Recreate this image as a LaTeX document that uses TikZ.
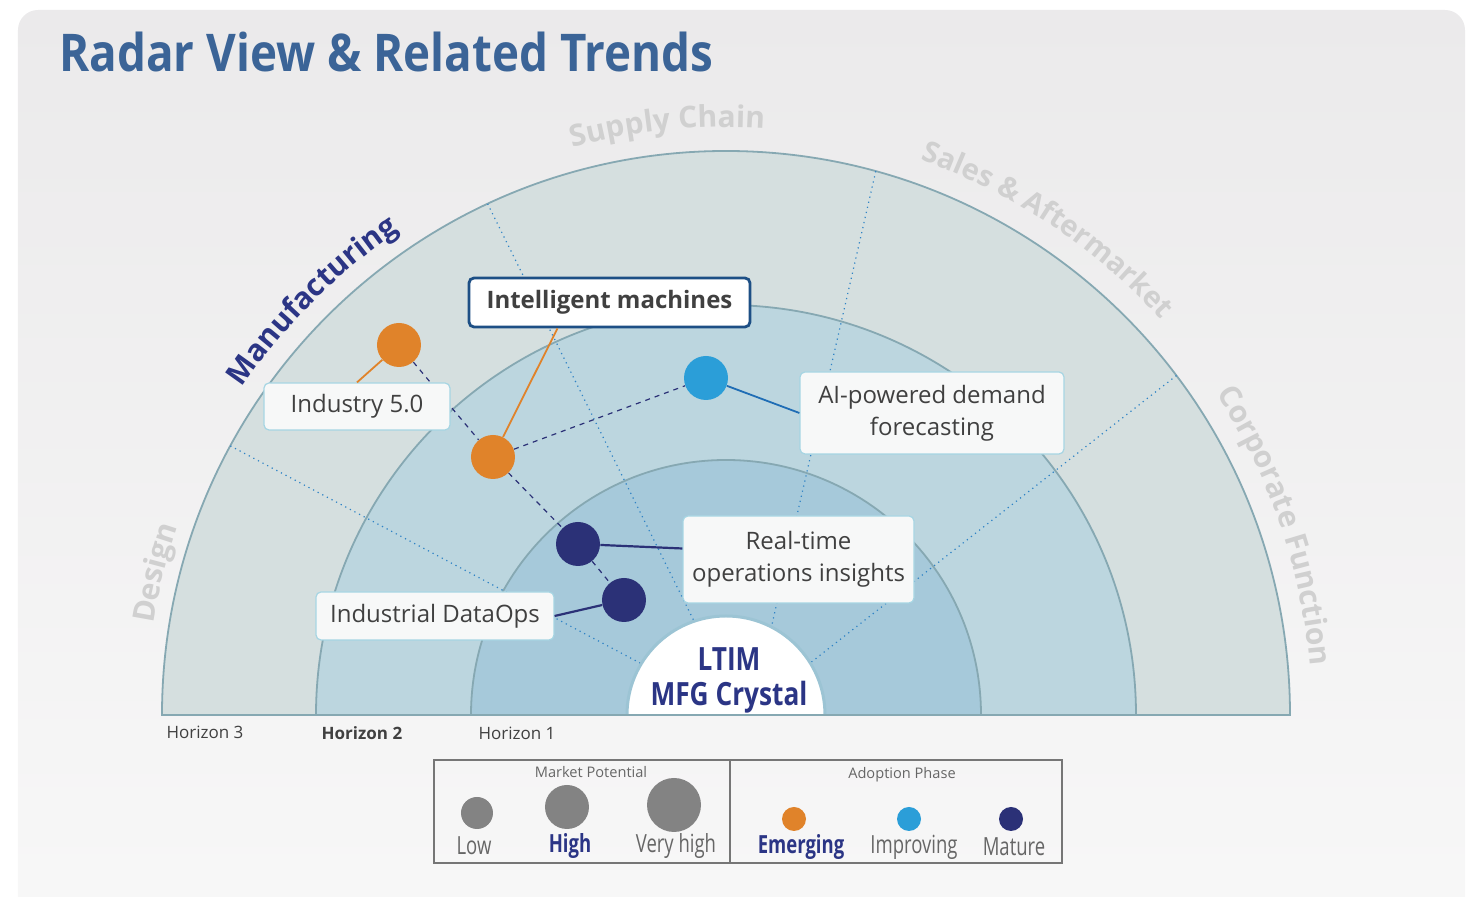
\documentclass[tikz,border=0pt]{standalone}
\usepackage{fontspec}
\setmainfont{Open Sans}
\newfontfamily\narrowfont[FakeStretch=0.74]{Open Sans}
\newfontfamily\titlefont[FakeStretch=0.88]{Open Sans}
\newfontfamily\crystalfont[FakeStretch=0.82]{Open Sans}
\usetikzlibrary{decorations.text}

\definecolor{titleblue}{HTML}{3B6497}
\definecolor{navy}{HTML}{2B3585}
\definecolor{sectgray}{HTML}{D0D0D0}
\definecolor{bgtop}{HTML}{EBEAEB}
\definecolor{bgbottom}{HTML}{F8F8F8}
\definecolor{ringouter}{HTML}{D5DFDF}
\definecolor{ringmid}{HTML}{BCD6DF}
\definecolor{ringinner}{HTML}{A6C9DA}
\definecolor{ringedge}{HTML}{86A8B2}
\definecolor{coreedge}{HTML}{9CC4D4}
\definecolor{sectorblue}{HTML}{2F83C5}
\definecolor{emerging}{HTML}{E0832A}
\definecolor{improving}{HTML}{2B9ED8}
\definecolor{mature}{HTML}{2B3177}
\definecolor{leaderblue}{HTML}{1F6DB5}
\definecolor{boxfill}{HTML}{F7F8F8}
\definecolor{boxedge}{HTML}{A6D5E3}
\definecolor{boxtext}{HTML}{404040}
\definecolor{intedge}{HTML}{1D4F85}
\definecolor{potential}{HTML}{838383}
\definecolor{legendline}{HTML}{767676}
\definecolor{legendtext}{HTML}{666666}

\tikzset{
	ringline/.style={draw=ringedge, line width=0.9pt},
	sector/.style={draw=sectorblue, line width=0.6pt, dotted},
	trenddot/.style={circle, inner sep=0pt, minimum size=22pt},
	keydot/.style={circle, inner sep=0pt, minimum size=12pt},
	trendlink/.style={draw=mature, line width=0.6pt, dash pattern=on 2.5pt off 2.5pt},
	trendbox/.style={draw=boxedge, fill=boxfill, line width=0.6pt, rounded corners=2.5pt, inner sep=0pt, align=center, text=boxtext, font=\fontsize{12}{16}\selectfont},
	horizon/.style={text=boxtext, font=\fontsize{8.5}{10}\selectfont},
	keylabel/.style={text=legendtext, font=\narrowfont\fontsize{12.5}{14}\selectfont},
}
% text bent round the outer ring
\def\sectorlabel[#1](#2:#3:#4)#5{\path[decorate, decoration={text along path, text align=center, text={|#1|#5}}] (#2:#4) arc (#2:#3:#4);}

\begin{document}
\begin{tikzpicture}[x=0.5pt, y=0.5pt]
			%%%%% START %%%%%
			
			\useasboundingbox (-726, -182) rectangle (740, 715);
			\clip (-726, -182) rectangle (740, 715);
			\shade[top color=bgtop, bottom color=bgbottom, rounded corners=10pt] (-708, 705) rectangle (739, -240);
			
			\node[anchor=base west, text=titleblue, font=\titlefont\bfseries\fontsize{26}{30}\selectfont, inner sep=0pt] (title) at (-667, 643) {Radar View \& Related Trends};
			
			% rings
			\draw[ringline, fill=ringouter] (-564, 0) arc (180:0:564) -- cycle;
			\draw[ringline, fill=ringmid] (-410, 0) arc (180:0:410) -- cycle;
			\draw[ringline, fill=ringinner] (-255, 0) arc (180:0:255) -- cycle;
			
			\draw[sector] (115:564) -- (108.8:99);
			\draw[sector] (74.6:564) -- (62.7:99);
			\draw[sector] (151.5:564) -- (148.8:99);
			\draw[sector] (37:564) -- (31.7:99);
			
			\draw[line width=1.5pt, draw=coreedge, fill=white] (-99, 0) arc (180:0:99);
			\draw[line width=1pt, color=ringedge] (-564, 0) -- (564, 0);
			
			\node[align=center, text=navy, font=\crystalfont\bfseries\fontsize{16}{17.5}\selectfont] (core) at (3, 35) {LTIM\\MFG Crystal};
			
			% sector names
			\sectorlabel[\fontsize{15}{15}\selectfont\bfseries\color{sectgray}](130.7:60.7:588){Supply Chain}
			\sectorlabel[\fontsize{14.5}{15}\selectfont\bfseries\color{sectgray}](91.5:21.5:588){Sales {\&} Aftermarket}
			\sectorlabel[\fontsize{15}{15}\selectfont\bfseries\color{sectgray}](54:-16:586){Corporate Function}
			\sectorlabel[\fontsize{15}{15}\selectfont\bfseries\color{sectgray}](201:131:580){Design}
			\sectorlabel[\fontsize{15}{15}\selectfont\bfseries\color{navy}](170:100:584){Manufacturing}
			
			\node[horizon] (h3) at (-521, -17) {Horizon 3};
			\node[horizon, font=\bfseries\fontsize{8.5}{10}\selectfont] (h2) at (-364, -18) {Horizon 2};
			\node[horizon] (h1) at (-209, -18) {Horizon 1};
			
			% trends
			\node[trenddot, fill=emerging] (dInd) at (-327, 370) {};
			\node[trenddot, fill=emerging] (dInt) at (-233, 258) {};
			\node[trenddot, fill=improving] (dAi) at (-20, 337) {};
			\node[trenddot, fill=mature] (dRt) at (-148, 171) {};
			\node[trenddot, fill=mature] (dDop) at (-102, 115) {};
			
			\draw[trendlink] (dInd) -- (dInt) -- (dRt) -- (dDop);
			\draw[trendlink] (dInt) -- (dAi);
			
			\node[trendbox, minimum width=93pt, minimum height=23.5pt] (bInd) at (-369, 308.5) {Industry 5.0};
			\node[trendbox, draw=intedge, fill=white, line width=1.4pt, minimum width=140.5pt, minimum height=24.5pt, font=\bfseries\fontsize{12}{16}\selectfont] (bInt) at (-116.5, 412.5) {Intelligent machines};
			\node[trendbox, minimum width=132pt, minimum height=41pt] (bAi) at (206, 302) {AI-powered demand\\forecasting};
			\node[trendbox, minimum width=115.5pt, minimum height=43.5pt] (bRt) at (72.5, 155.5) {Real-time\\operations insights};
			\node[trendbox, minimum width=119pt, minimum height=24pt] (bDop) at (-291, 99) {Industrial DataOps};
			
			\draw[line width=0.9pt, color=emerging] (dInd) -- (bInd.north);
			\draw[line width=0.9pt, color=emerging] (dInt) -- ([xshift=-26pt]bInt.south);
			\draw[line width=0.9pt, color=leaderblue] (dAi) -- (bAi.west);
			\draw[line width=1.1pt, color=mature] (dRt) -- ([yshift=5.5pt]bRt.west);
			\draw[line width=1.1pt, color=mature] (dDop) -- (bDop.east);
			
			% legend
			\draw[line width=0.8pt, color=legendline] (-292, -45) rectangle (336, -148);
			\draw[line width=0.8pt, color=legendline] (4, -45) -- (4, -148);
			
			\node[text=legendtext, font=\fontsize{7.3}{9}\selectfont] (kMp) at (-135, -57) {Market Potential};
			\node[circle, inner sep=0pt, minimum size=16pt, fill=potential] (kLow) at (-249, -98) {};
			\node[circle, inner sep=0pt, minimum size=22pt, fill=potential] (kHigh) at (-159, -92) {};
			\node[circle, inner sep=0pt, minimum size=27pt, fill=potential] (kVhigh) at (-52, -90) {};
			\node[keylabel] (lLow) at (-252, -131) {Low};
			\node[keylabel, text=navy, font=\narrowfont\bfseries\fontsize{12.5}{14}\selectfont] (lHigh) at (-156, -131) {High};
			\node[keylabel] (lVhigh) at (-50, -131) {Very high};
			
			\node[text=legendtext, font=\fontsize{7.3}{9}\selectfont] (kAp) at (176, -60) {Adoption Phase};
			\node[keydot, fill=emerging] (kEm) at (68, -104) {};
			\node[keydot, fill=improving] (kIm) at (183, -104) {};
			\node[keydot, fill=mature] (kMa) at (285, -104) {};
			\node[keylabel, text=navy, font=\narrowfont\bfseries\fontsize{12.5}{14}\selectfont] (lEm) at (75, -132) {Emerging};
			\node[keylabel] (lIm) at (188, -132) {Improving};
			\node[keylabel] (lMa) at (288, -132) {Mature};
			
			%%%%% END %%%%%
\end{tikzpicture}
\end{document}
